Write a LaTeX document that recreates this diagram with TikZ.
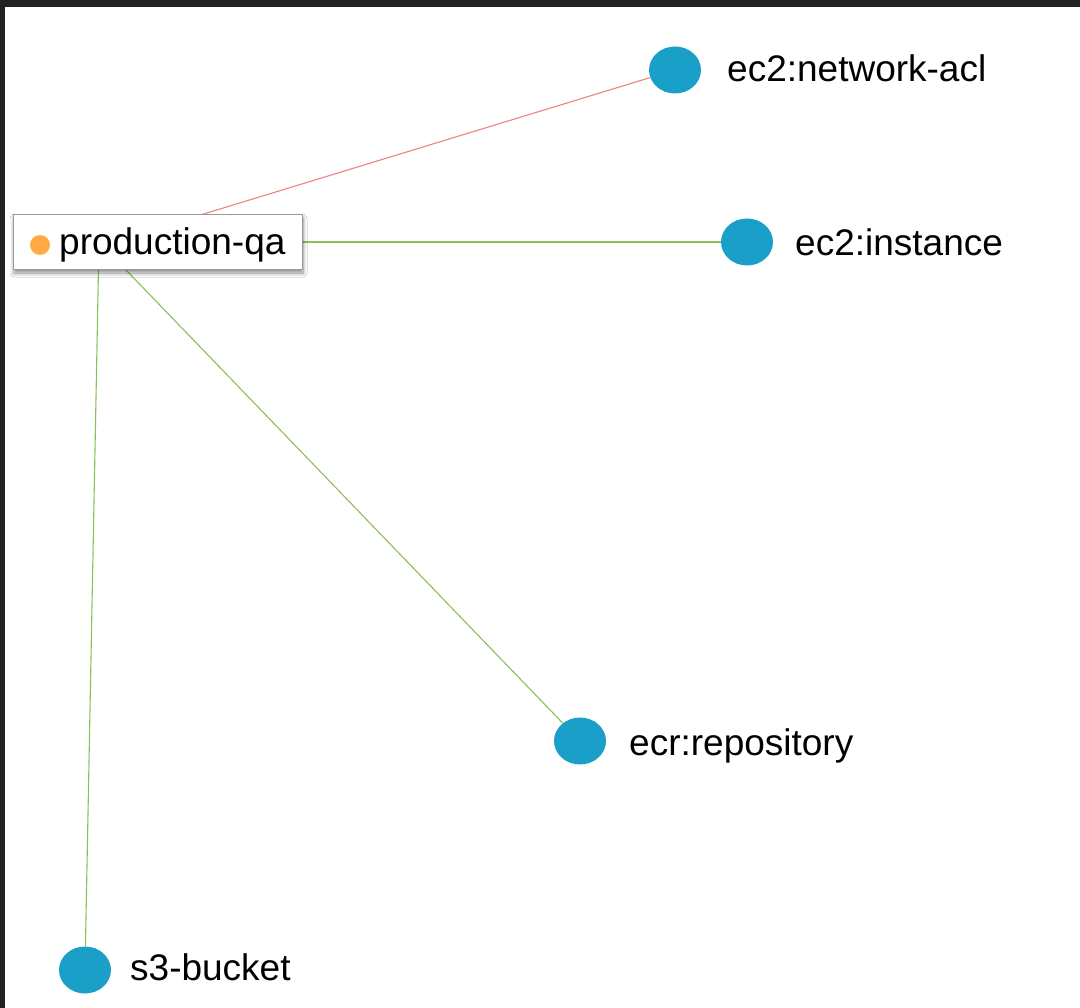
\documentclass[tikz,border=0pt]{standalone}
\usepackage{fontspec}
\setmainfont{Liberation Sans}
\usetikzlibrary{shapes.geometric,shadows.blur}
\definecolor{framecol}{HTML}{222222}
\definecolor{nodeblue}{HTML}{1AA0C8}
\definecolor{dotorange}{HTML}{FFAA44}
\definecolor{edgered}{HTML}{EE8282}
\definecolor{edgegreen}{HTML}{8CBF5A}
\begin{document}
\begin{tikzpicture}[x=1pt,y=-1pt,
  res/.style={ellipse,fill=nodeblue,draw=none,minimum width=52pt,minimum height=47pt,inner sep=0pt},
  lbl/.style={anchor=base west,inner sep=0pt,font=\fontsize{37}{44}\selectfont},
  edge/.style={line width=1.1pt},
  qabox/.style={rectangle,draw=black!40,fill=white,line width=1pt,minimum width=289pt,minimum height=55pt,inner sep=0pt,
    blur shadow={shadow xshift=1pt,shadow yshift=-3pt,shadow blur steps=8,shadow blur radius=4pt,shadow opacity=45}}]
  \fill[framecol] (0,0) rectangle (1080,1008);
  \fill[white] (5,7) rectangle (1080,1008);
  \useasboundingbox (0,0) rectangle (1080,1008);

  % resource nodes
  \node[res] (acl) at (675,70) {};
  \node[res] (inst) at (747,242) {};
  \node[res] (ecr) at (580,741) {};
  \node[res] (s3) at (85,970) {};

  \node[lbl] (acllbl) at (727,82) {ec2:network-acl};
  \node[lbl] (instlbl) at (795,256) {ec2:instance};
  \node[lbl] (ecrlbl) at (629,755) {ecr:repository};
  \node[lbl] (s3lbl) at (130,980) {s3-bucket};

  % connectors
  \coordinate (hub) at (99,242);
  \coordinate (hubr) at (112,242);
  \draw[edge,edgered] (hubr) -- (acl);
  \draw[edge,edgegreen] (hub) -- (inst);
  \draw[edge,edgegreen] (hub) -- (ecr);
  \draw[edge,edgegreen] (hub) -- (s3);

  % production-qa box
  \node[qabox] (qa) at (157.5,242.5) {};
  \node[circle,fill=dotorange,minimum size=20pt,inner sep=0pt] (dot) at (40,245) {};
  \node[lbl] (qalbl) at (59,255) {production-qa};
\end{tikzpicture}
\end{document}
